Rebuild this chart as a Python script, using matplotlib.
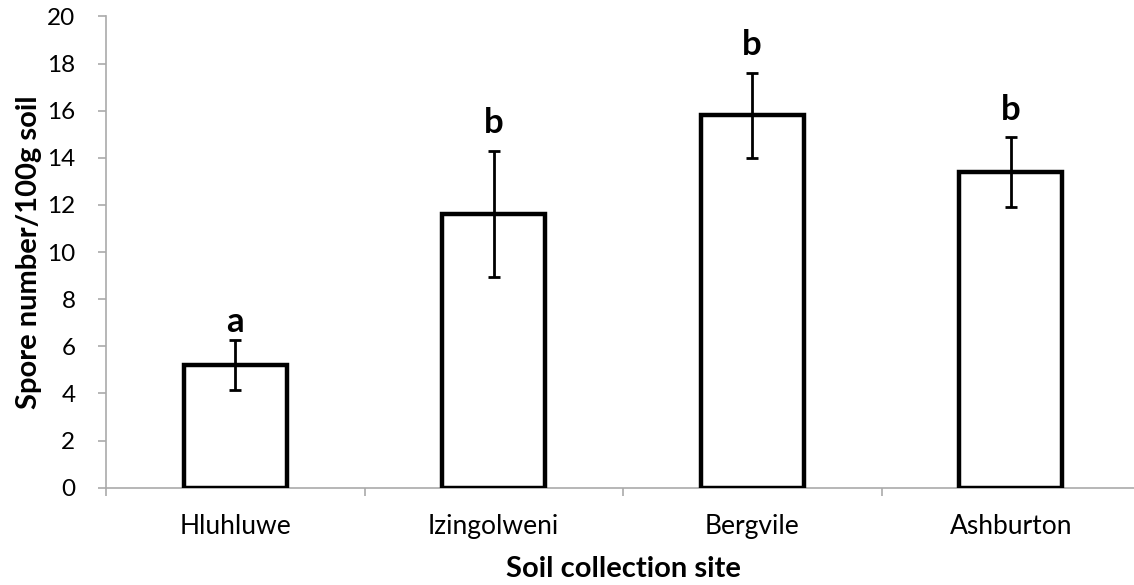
import matplotlib
matplotlib.use("Agg")
import matplotlib.pyplot as plt

sites = ["Hluhluwe", "Izingolweni", "Bergvile", "Ashburton"]
spores = [5.2, 11.6, 15.8, 13.4]
errors = [1.06, 2.67, 1.79, 1.49]
letters = ["a", "b", "b", "b"]
yticks = [0, 2, 4, 6, 8, 10, 12, 14, 16, 18, 20]

plt.rcParams['font.family'] = ['Lato', 'DejaVu Sans']

W, H = 1134, 585
fig = plt.figure(figsize=(W / 100, H / 100), dpi=100)
left, right, bottom_px, top_px = 106, 1140, 487.7, 16.5
ax = fig.add_axes([left / W, (H - bottom_px) / H, (right - left) / W, (bottom_px - top_px) / H])

x = list(range(len(sites)))
ax.bar(x, spores, width=0.4, color='white', edgecolor='black', linewidth=3.2, zorder=2)
ax.errorbar(x, spores, yerr=errors, fmt='none', ecolor='black', elinewidth=2.0,
            capsize=4.3, capthick=2.0, zorder=3)

label_gap = [8, 18, 18, 17]
for xi, v, e, lab, g in zip(x, spores, errors, letters, label_gap):
    ax.annotate(lab, (xi, v + e), xytext=(0, g), textcoords='offset pixels',
                ha='center', va='baseline', fontsize=25, fontweight='bold')

ax.set_xlim(-0.5, len(sites) - 0.5)
ax.set_ylim(0, 20)
ax.set_yticks(yticks)
ax.set_yticklabels([str(t) for t in yticks])
ax.set_xticks(x)
ax.set_xticklabels(sites)
ax.set_xticks([i + 0.5 for i in range(-1, len(sites))], minor=True)

for s in ['top', 'right']:
    ax.spines[s].set_visible(False)
for s in ['left', 'bottom']:
    ax.spines[s].set_color('#aaaaaa')
    ax.spines[s].set_linewidth(1.2)
    ax.spines[s].set_zorder(1)

ax.tick_params(axis='y', direction='out', length=6, width=1.2, color='#aaaaaa',
               labelsize=17.5, pad=16)
ax.tick_params(axis='x', which='major', length=0, labelsize=19, pad=19)
ax.tick_params(axis='x', which='minor', direction='out', length=6, width=1.2, color='#aaaaaa')

ax.set_xlabel("Soil collection site", fontsize=21, fontweight='bold', labelpad=12)
ax.set_ylabel("Spore number/100g soil", fontsize=21, fontweight='bold', labelpad=4)

fig.savefig("out.png", dpi=100)
